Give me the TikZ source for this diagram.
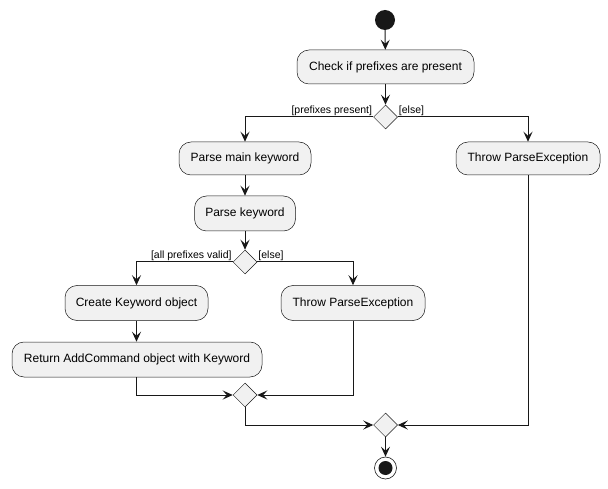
\documentclass[tikz,border=0pt]{standalone}
\usepackage{fontspec}
\setmainfont{Liberation Sans}
\usetikzlibrary{shapes.geometric,arrows.meta}
\definecolor{boxfill}{HTML}{F1F1F1}
\definecolor{ink}{HTML}{181818}
\begin{document}
\begin{tikzpicture}[x=1pt,y=-1pt,
  act/.style={draw=ink,fill=boxfill,line width=0.5pt,rounded corners=12pt,inner sep=0pt,minimum height=34pt,font=\fontsize{12}{14}\selectfont,text=black},
  dec/.style={draw=ink,fill=boxfill,line width=0.5pt,diamond,aspect=1,inner sep=0pt,minimum width=24pt,minimum height=24pt},
  flow/.style={draw=ink,line width=1pt,-{Stealth[length=10pt,width=9pt,inset=4pt]}},
  guard/.style={font=\fontsize{10.5}{12}\selectfont,inner sep=1pt,text=black}]
\useasboundingbox (0,0) rectangle (608,489);
\node[circle,fill=ink,minimum size=20pt,inner sep=0pt] (start) at (385,20) {};
\node[act,minimum width=177pt] (check) at (385.5,67) {Check if prefixes are present};
\node[dec] (d1) at (385.5,117) {};
\node[act,minimum width=132pt,minimum height=33pt] (pmk) at (245,158.5) {Parse main keyword};
\node[act,minimum width=144pt,minimum height=33pt] (t1) at (528,158.5) {Throw ParseException};
\node[act,minimum width=101pt,minimum height=35pt] (pk) at (245,213.5) {Parse keyword};
\node[dec] (d2) at (245,262) {};
\node[act,minimum width=143pt,minimum height=35pt] (ck) at (136.5,303) {Create Keyword object};
\node[act,minimum width=144pt,minimum height=35pt] (t2) at (353,303) {Throw ParseException};
\node[act,minimum width=250pt,minimum height=35pt] (ret) at (137,359.5) {Return AddCommand object with Keyword};
\node[dec] (d3) at (245,395) {};
\node[dec] (d4) at (385.5,425) {};
\node[circle,draw=ink,line width=0.6pt,fill=white,minimum size=22pt,inner sep=0pt] (end) at (385.5,468) {};
\fill[ink] (end.center) circle (7pt);
\node[guard,anchor=south east] at (d1.west) {[prefixes present]};
\node[guard,anchor=south west] at (d1.east) {[else]};
\node[guard,anchor=south east] at (d2.west) {[all prefixes valid]};
\node[guard,anchor=south west] at (d2.east) {[else]};
\draw[flow] (start) -- (check);
\draw[flow] (check) -- (d1);
\draw[flow] (d1.west) -| (pmk.north);
\draw[flow] (d1.east) -| (t1.north);
\draw[flow] (pmk) -- (pk);
\draw[flow] (pk) -- (d2);
\draw[flow] (d2.west) -| (ck.north);
\draw[flow] (d2.east) -| (t2.north);
\draw[flow] (ck) -- (ck|-ret.north);
\draw[flow] (ret.south-|ck) |- (d3.west);
\draw[flow] (t2.south) |- (d3.east);
\draw[flow] (d3.south) |- (d4.west);
\draw[flow] (t1.south) |- (d4.east);
\draw[flow] (d4) -- (end);
\end{tikzpicture}
\end{document}
